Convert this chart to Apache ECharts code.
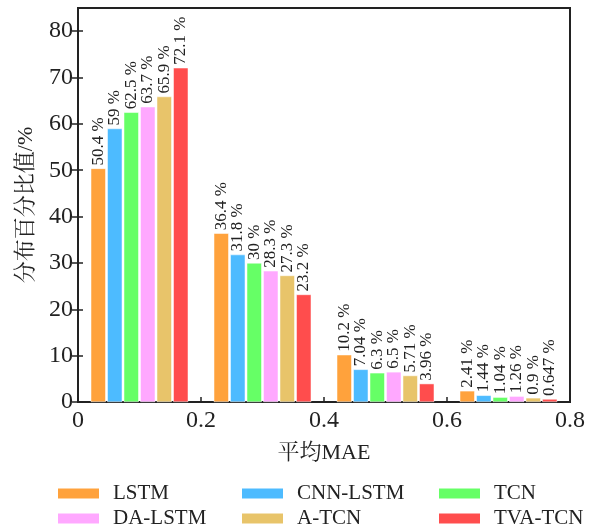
<!DOCTYPE html>
<html><head><meta charset="utf-8">
<script src="https://cdn.jsdelivr.net/npm/echarts@6/dist/echarts.min.js"></script>
<style>html,body{margin:0;padding:0;background:#fff}#c{width:595px;height:531px}</style>
</head><body><div id="c"></div>
<script>
const positions = [0.1, 0.3, 0.5, 0.7];
const seriesNames = ['LSTM', 'CNN-LSTM', 'TCN', 'DA-LSTM', 'A-TCN', 'TVA-TCN'];
const LSTM = [50.4, 36.4, 10.2, 2.41];
const CNN_LSTM = [59, 31.8, 7.04, 1.44];
const TCN = [62.5, 30, 6.3, 1.04];
const DA_LSTM = [63.7, 28.3, 6.5, 1.26];
const A_TCN = [65.9, 27.3, 5.71, 0.9];
const TVA_TCN = [72.1, 23.2, 3.96, 0.647];
const yTicks = [0, 10, 20, 30, 40, 50, 60, 70, 80];
const xTicks = [0, 0.2, 0.4, 0.6, 0.8];

const colors = ['#FFA23C', '#4DBBFF', '#66FF66', '#FFA8FF', '#E8C46A', '#FF4D4D'];
const values = [LSTM, CNN_LSTM, TCN, DA_LSTM, A_TCN, TVA_TCN];
const FONT = '"Liberation Serif", "Noto Serif CJK SC", "Noto Sans CJK SC", serif';
const TXT = '#222';

const series = seriesNames.map((n, i) => ({
  name: n, type: 'bar',
  data: positions.map((p, j) => [p, values[i][j]]),
  barWidth: 15, barGap: '10%',
  itemStyle: { color: colors[i], borderColor: '#fff', borderWidth: 0.5 },
  label: {
    show: true, position: 'top', rotate: 90, align: 'left', verticalAlign: 'middle',
    distance: 3, fontFamily: FONT, fontSize: 17, color: TXT,
    formatter: p => p.value[1] + ' %'
  }
}));

// legend grid: [name, left, top]
const legendPos = [['LSTM', 56, 483], ['CNN-LSTM', 240, 483], ['TCN', 437, 483],
                   ['DA-LSTM', 56, 508], ['A-TCN', 240, 508], ['TVA-TCN', 437, 508]];
const legends = legendPos.map(([n, l, t]) => ({
  data: [n], left: l, top: t, padding: 0,
  itemWidth: 43, itemHeight: 12, icon: 'rect',
  textStyle: { fontFamily: FONT, fontSize: 21, color: TXT, padding: [0, 0, 0, 8] }
}));

const tickStyle = { color: '#222', width: 1.5 };
const chart = echarts.init(document.getElementById('c'));
chart.setOption({
  animation: false,
  color: colors,
  grid: { left: 78, right: 25, top: 8, bottom: 129, show: true, borderColor: '#222', borderWidth: 2 },
  legend: legends,
  xAxis: {
    type: 'value', min: 0, max: 0.8, interval: 0.2,
    name: '平均MAE', nameLocation: 'middle', nameGap: 40,
    nameTextStyle: { fontFamily: FONT, fontSize: 22, color: TXT },
    axisLine: { show: true, lineStyle: { color: '#222', width: 2 } },
    axisTick: { show: true, inside: true, length: 5, lineStyle: tickStyle },
    axisLabel: { fontFamily: FONT, fontSize: 24, color: TXT, margin: 7, formatter: v => String(v) },
    splitLine: { show: false }
  },
  yAxis: [{
    type: 'value', min: 0, max: 85, interval: 10,
    name: '分布百分比值/%', nameLocation: 'middle', nameGap: 41, nameRotate: 90,
    nameTextStyle: { fontFamily: FONT, fontSize: 22, color: TXT },
    axisLine: { show: true, lineStyle: { color: '#222', width: 2 } },
    axisTick: { show: true, inside: false, length: 6, customValues: yTicks, lineStyle: tickStyle },
    axisLabel: { fontFamily: FONT, fontSize: 24, color: TXT, margin: 5, customValues: yTicks },
    splitLine: { show: false }
  }, {
    type: 'value', min: 0, max: 85, interval: 10, position: 'left',
    axisLine: { show: false },
    axisTick: { show: true, inside: true, length: 5, customValues: yTicks, lineStyle: tickStyle },
    axisLabel: { show: false },
    splitLine: { show: false }
  }],
  series: series
});
</script></body></html>
